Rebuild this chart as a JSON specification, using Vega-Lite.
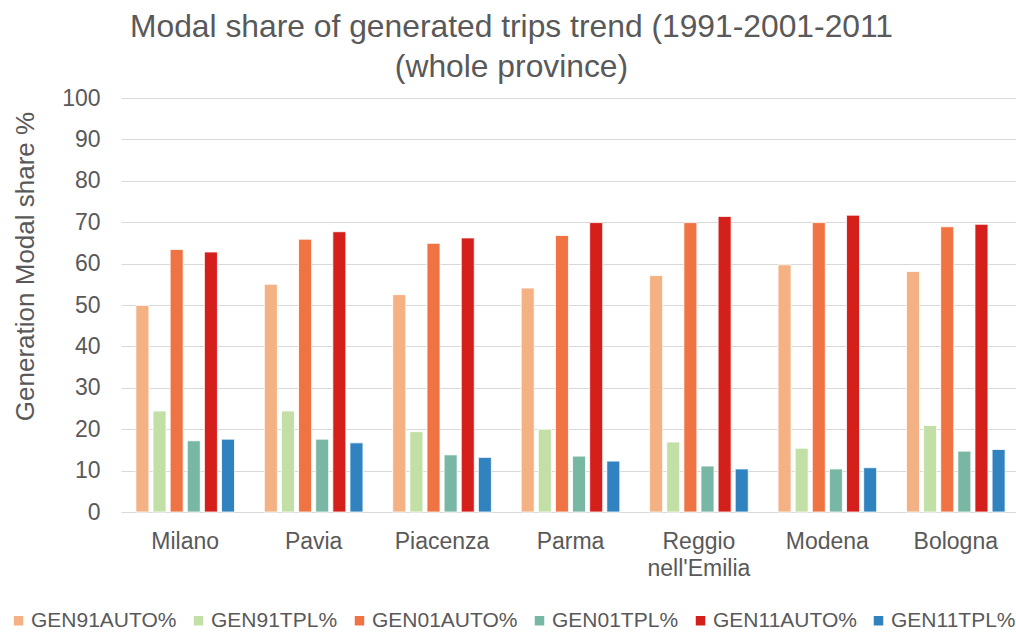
{
  "$schema": "https://vega.github.io/schema/vega-lite/v6.json",
  "width": 895,
  "height": 414,
  "autosize": {"type": "none"},
  "padding": {"left": 121, "top": 98, "right": 0, "bottom": 120},
  "background": "white",
  "config": {
    "font": "Liberation Sans",
    "view": {"stroke": null}
  },
  "title": {
    "text": ["Modal share of generated trips trend (1991-2001-2011", "(whole province)"],
    "fontSize": 31.8,
    "fontWeight": "normal",
    "color": "#595959",
    "lineHeight": 40,
    "anchor": "middle",
    "frame": "group",
    "dx": -57,
    "offset": 3
  },
  "data": {
    "values": [
      {"city": "Milano", "series": "GEN91AUTO%", "value": 49.9},
      {"city": "Milano", "series": "GEN91TPL%", "value": 24.4},
      {"city": "Milano", "series": "GEN01AUTO%", "value": 63.4},
      {"city": "Milano", "series": "GEN01TPL%", "value": 17.2},
      {"city": "Milano", "series": "GEN11AUTO%", "value": 62.8},
      {"city": "Milano", "series": "GEN11TPL%", "value": 17.6},
      {"city": "Pavia", "series": "GEN91AUTO%", "value": 55.0},
      {"city": "Pavia", "series": "GEN91TPL%", "value": 24.4},
      {"city": "Pavia", "series": "GEN01AUTO%", "value": 65.9},
      {"city": "Pavia", "series": "GEN01TPL%", "value": 17.6},
      {"city": "Pavia", "series": "GEN11AUTO%", "value": 67.7},
      {"city": "Pavia", "series": "GEN11TPL%", "value": 16.7},
      {"city": "Piacenza", "series": "GEN91AUTO%", "value": 52.5},
      {"city": "Piacenza", "series": "GEN91TPL%", "value": 19.4},
      {"city": "Piacenza", "series": "GEN01AUTO%", "value": 64.9},
      {"city": "Piacenza", "series": "GEN01TPL%", "value": 13.8},
      {"city": "Piacenza", "series": "GEN11AUTO%", "value": 66.2},
      {"city": "Piacenza", "series": "GEN11TPL%", "value": 13.2},
      {"city": "Parma", "series": "GEN91AUTO%", "value": 54.1},
      {"city": "Parma", "series": "GEN91TPL%", "value": 20.0},
      {"city": "Parma", "series": "GEN01AUTO%", "value": 66.8},
      {"city": "Parma", "series": "GEN01TPL%", "value": 13.5},
      {"city": "Parma", "series": "GEN11AUTO%", "value": 69.9},
      {"city": "Parma", "series": "GEN11TPL%", "value": 12.3},
      {"city": "Reggio nell'Emilia", "series": "GEN91AUTO%", "value": 57.1},
      {"city": "Reggio nell'Emilia", "series": "GEN91TPL%", "value": 16.9},
      {"city": "Reggio nell'Emilia", "series": "GEN01AUTO%", "value": 69.9},
      {"city": "Reggio nell'Emilia", "series": "GEN01TPL%", "value": 11.1},
      {"city": "Reggio nell'Emilia", "series": "GEN11AUTO%", "value": 71.4},
      {"city": "Reggio nell'Emilia", "series": "GEN11TPL%", "value": 10.4},
      {"city": "Modena", "series": "GEN91AUTO%", "value": 59.7},
      {"city": "Modena", "series": "GEN91TPL%", "value": 15.4},
      {"city": "Modena", "series": "GEN01AUTO%", "value": 69.9},
      {"city": "Modena", "series": "GEN01TPL%", "value": 10.4},
      {"city": "Modena", "series": "GEN11AUTO%", "value": 71.7},
      {"city": "Modena", "series": "GEN11TPL%", "value": 10.7},
      {"city": "Bologna", "series": "GEN91AUTO%", "value": 58.1},
      {"city": "Bologna", "series": "GEN91TPL%", "value": 20.9},
      {"city": "Bologna", "series": "GEN01AUTO%", "value": 68.9},
      {"city": "Bologna", "series": "GEN01TPL%", "value": 14.7},
      {"city": "Bologna", "series": "GEN11AUTO%", "value": 69.5},
      {"city": "Bologna", "series": "GEN11TPL%", "value": 15.1}
    ]
  },
  "mark": {"type": "bar", "stroke": "white", "strokeWidth": 0.8},
  "encoding": {
    "x": {
      "field": "city",
      "type": "nominal",
      "sort": null,
      "scale": {"paddingInner": 0.232, "paddingOuter": 0.116, "range": [0, 899]},
      "axis": {
        "title": null,
        "labelAngle": 0,
        "labelFontSize": 23,
        "labelColor": "#595959",
        "labelPadding": 18,
        "labelLineHeight": 27,
        "ticks": false,
        "domain": false,
        "labelExpr": "datum.value == \"Reggio nell'Emilia\" ? ['Reggio', \"nell'Emilia\"] : datum.value"
      }
    },
    "xOffset": {
      "field": "series",
      "type": "nominal",
      "sort": null,
      "scale": {"paddingInner": 0.24, "paddingOuter": 0}
    },
    "y": {
      "field": "value",
      "type": "quantitative",
      "scale": {"domain": [0, 100], "nice": false},
      "axis": {
        "title": "Generation Modal share %",
        "titleFontSize": 26,
        "titleFontWeight": "normal",
        "titleColor": "#595959",
        "titleAngle": -90,
        "titleAlign": "center",
        "titleBaseline": "alphabetic",
        "titleX": -88,
        "titleY": 168,
        "values": [0, 10, 20, 30, 40, 50, 60, 70, 80, 90, 100],
        "labelFontSize": 23,
        "labelColor": "#595959",
        "labelPadding": 21,
        "ticks": false,
        "domain": false,
        "grid": true,
        "gridColor": "#D9D9D9",
        "gridWidth": 1.2
      }
    },
    "color": {
      "field": "series",
      "type": "nominal",
      "sort": null,
      "scale": {
        "domain": ["GEN91AUTO%", "GEN91TPL%", "GEN01AUTO%", "GEN01TPL%", "GEN11AUTO%", "GEN11TPL%"],
        "range": ["#F4B183", "#C2DFA6", "#F07343", "#78B7A4", "#D41F1A", "#3183C0"]
      },
      "legend": {
        "title": null,
        "orient": "none",
        "direction": "horizontal",
        "gridAlign": "each",
        "legendX": -113,
        "legendY": 512,
        "symbolType": "square",
        "symbolSize": 90,
        "symbolStrokeWidth": 0,
        "symbolOpacity": 1,
        "labelFontSize": 21,
        "labelColor": "#595959",
        "labelOffset": 2,
        "columnPadding": 11
      }
    }
  }
}
